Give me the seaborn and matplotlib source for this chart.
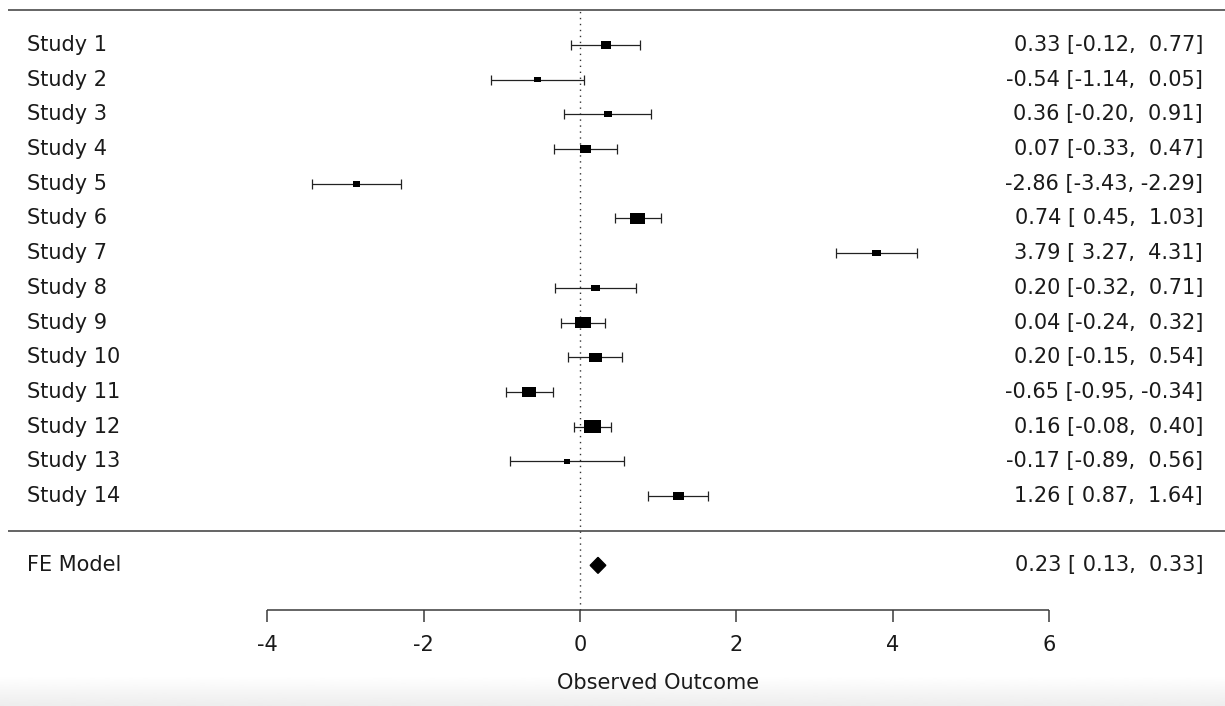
import numpy as np
import matplotlib
matplotlib.use("Agg")
import matplotlib.pyplot as plt
import seaborn as sns
from matplotlib.path import Path

# forest plot data
studies = ["Study 1", "Study 2", "Study 3", "Study 4", "Study 5", "Study 6", "Study 7",
           "Study 8", "Study 9", "Study 10", "Study 11", "Study 12", "Study 13", "Study 14"]
est = [0.33, -0.54, 0.36, 0.07, -2.86, 0.74, 3.79, 0.20, 0.04, 0.20, -0.65, 0.16, -0.17, 1.26]
ci_lb = [-0.12, -1.14, -0.20, -0.33, -3.43, 0.45, 3.27, -0.32, -0.24, -0.15, -0.95, -0.08, -0.89, 0.87]
ci_ub = [0.77, 0.05, 0.91, 0.47, -2.29, 1.03, 4.31, 0.71, 0.32, 0.54, -0.34, 0.40, 0.56, 1.64]

fe_label = "FE Model"
fe_est = 0.23
fe_lb = 0.13
fe_ub = 0.33

xticks = [-4, -2, 0, 2, 4, 6]
xlabel = "Observed Outcome"

sns.set_theme(style="white")
plt.rcParams['font.family'] = ['DejaVu Sans']
fsize = 15
tcol = "#1a1a1a"
lcol = "#3a3a3a"

est = np.array(est)
lb = np.array(ci_lb)
ub = np.array(ci_ub)
k = len(studies)
rows = np.arange(k, 0, -1)  # Study 1 on top

# point size like metafor: linear in 1/se, between 0.5 and 1.5
w = 1 / (ub - lb)
psize = (w - w.min()) / (w.max() - w.min()) + 0.5
s = (psize * 8.6) ** 2

fig = plt.figure(figsize=(12.25, 7.06), dpi=100)
ax = fig.add_axes([0, 0, 1, 1])
ax.set_xlim(-7.417, 8.248)
ax.set_ylim(-5.054, 15.297)
ax.axis("off")

# bottom grey fade from the screenshot
bg = fig.add_axes([0, 0, 1, 0.042], zorder=-1)
grad = np.linspace(0.93, 1.0, 50).reshape(-1, 1)
bg.imshow(grad, aspect="auto", cmap="gray", vmin=0, vmax=1, origin="lower",
          extent=[0, 1, 0, 1])
bg.axis("off")

# horizontal rules
ax.hlines([k + 1, 0], -7.315, 8.248, color=lcol, lw=1.1)
# reference line
ax.vlines(0, -2.286, k + 1, color="#333333", lw=1, linestyles=(0, (1, 3.3)))

# CIs
ax.errorbar(est, rows, xerr=[est - lb, ub - est], fmt="none", ecolor="#222222",
            elinewidth=0.9, capsize=3.9, capthick=0.9)

# squares (a bit wider than tall, as in the reference)
rect = Path([(-1.33, -1), (1.33, -1), (1.33, 1), (-1.33, 1), (-1.33, -1)],
            [Path.MOVETO, Path.LINETO, Path.LINETO, Path.LINETO, Path.CLOSEPOLY])
sns.scatterplot(x=est, y=rows, ax=ax, marker=rect, s=s, color="black",
                edgecolor="none", linewidth=0, legend=False, zorder=3)

# summary diamond
fe_row = -1
h = 0.23
ax.fill([fe_lb, fe_est, fe_ub, fe_est], [fe_row, fe_row + h, fe_row, fe_row - h],
        color="black", zorder=3)

# labels left and right
for r, lab, e, l, u in zip(rows, studies, est, lb, ub):
    ax.text(-7.071, r, lab, ha="left", va="center", fontsize=fsize, color=tcol)
    ax.text(7.967, r, f"{e:.2f} [{l:5.2f}, {u:5.2f}]", ha="right", va="center",
            fontsize=fsize, color=tcol)
ax.text(-7.071, fe_row, fe_label, ha="left", va="center", fontsize=fsize, color=tcol)
ax.text(7.967, fe_row, f"{fe_est:.2f} [{fe_lb:5.2f}, {fe_ub:5.2f}]", ha="right",
        va="center", fontsize=fsize, color=tcol)

# x axis
ax.hlines(-2.286, xticks[0], xticks[-1], color=lcol, lw=1.1)
ax.vlines(xticks, -2.632, -2.286, color=lcol, lw=1.1)
for t in xticks:
    ax.text(t, -3.296, str(t), ha="center", va="center", fontsize=fsize, color=tcol)
ax.text((xticks[0] + xticks[-1]) / 2, -4.39, xlabel, ha="center", va="center",
        fontsize=fsize, color=tcol)

fig.savefig("out.png", dpi=100)
